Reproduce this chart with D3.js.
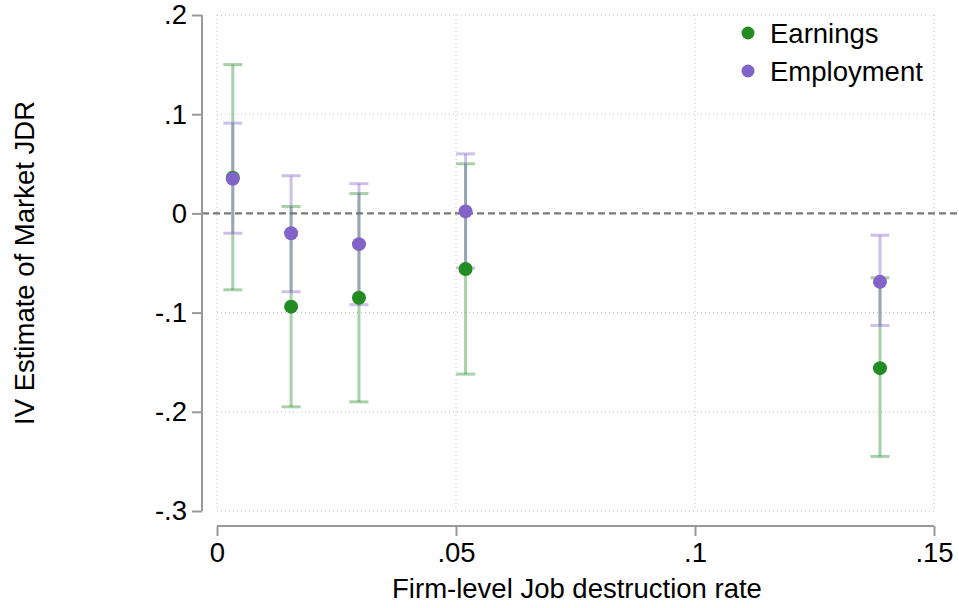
<!DOCTYPE html>
<html>
<head>
<meta charset="utf-8">
<script src="https://cdn.jsdelivr.net/npm/d3@7"></script>
<style>
  html, body { margin: 0; padding: 0; background: #fff; }
  svg text { font-family: "Liberation Sans", Arial, Helvetica, sans-serif; fill: #000; }
</style>
</head>
<body>
<svg id="chart" width="959" height="608"></svg>
<script>
// Firm-level job destruction rate bins (x positions)
const jdr = [0.0033, 0.0155, 0.0297, 0.0520, 0.1387];

// IV estimates with 95% confidence bounds
const earningsEst = [0.036, -0.094, -0.085, -0.056, -0.156];
const earningsLo  = [-0.077, -0.195, -0.190, -0.162, -0.245];
const earningsHi  = [0.150, 0.007, 0.020, 0.050, -0.065];

const employmentEst = [0.035, -0.020, -0.031, 0.002, -0.069];
const employmentLo  = [-0.020, -0.079, -0.092, -0.055, -0.113];
const employmentHi  = [0.091, 0.038, 0.030, 0.060, -0.022];

const xTicks = [0, 0.05, 0.10, 0.15];
const yTicks = [0.2, 0.1, 0, -0.1, -0.2, -0.3];
const xTickLabels = ["0", ".05", ".1", ".15"];
const yTickLabels = [".2", ".1", "0", "-.1", "-.2", "-.3"];

const seriesNames = ["Earnings", "Employment"];
const colors = { Earnings: "#228b22", Employment: "#8264c8" };

const fontSize = 27.5;
const svg = d3.select("#chart");

const x = d3.scaleLinear().domain([0, 0.15]).range([217, 934]);
const y = d3.scaleLinear().domain([-0.3, 0.2]).range([511, 15]);

// Gridlines
const grid = svg.append("g");
grid.selectAll("line.vg").data(xTicks).join("line")
  .attr("x1", d => x(d)).attr("x2", d => x(d))
  .attr("y1", y(0.2)).attr("y2", y(-0.3))
  .attr("stroke", "#c0c0c0").attr("stroke-width", 1)
  .attr("stroke-dasharray", "1,3");
grid.selectAll("line.hg").data(yTicks.filter(d => d !== 0)).join("line")
  .attr("x1", x(0)).attr("x2", x(0.15))
  .attr("y1", d => y(d)).attr("y2", d => y(d))
  .attr("stroke", "#c0c0c0").attr("stroke-width", 1)
  .attr("stroke-dasharray", "1,3");

// Reference line at zero
svg.append("line")
  .attr("x1", 202).attr("x2", 959)
  .attr("y1", y(0)).attr("y2", y(0))
  .attr("stroke", "#7a7a7a").attr("stroke-width", 2.2)
  .attr("stroke-dasharray", "7,4");

// Y axis
const yAxis = d3.axisLeft(y).tickValues(yTicks)
  .tickFormat((d, i) => yTickLabels[i]).tickSize(10).tickPadding(5);
const gy = svg.append("g").attr("transform", "translate(202,0)").call(yAxis);
gy.select(".domain").attr("stroke", "#999").attr("stroke-width", 2).attr("d", `M0,${y(0.2)}V${y(-0.3)}`);
gy.selectAll(".tick line").attr("stroke", "#999").attr("stroke-width", 2);
gy.selectAll(".tick text").attr("font-size", fontSize).attr("fill", "#000")
  .style("font-family", "'Liberation Sans', Arial, sans-serif");

// X axis
const xAxis = d3.axisBottom(x).tickValues(xTicks)
  .tickFormat((d, i) => xTickLabels[i]).tickSize(10).tickPadding(6);
const gx = svg.append("g").attr("transform", "translate(0,526)").call(xAxis);
gx.select(".domain").attr("stroke", "#999").attr("stroke-width", 2).attr("d", `M${x(0)},0H${x(0.15)}`);
gx.selectAll(".tick line").attr("stroke", "#999").attr("stroke-width", 2);
gx.selectAll(".tick text").attr("font-size", fontSize).attr("fill", "#000")
  .style("font-family", "'Liberation Sans', Arial, sans-serif");

// Axis titles
svg.append("text")
  .attr("x", 577).attr("y", 598)
  .attr("text-anchor", "middle").attr("font-size", fontSize)
  .text("Firm-level Job destruction rate");
svg.append("text")
  .attr("transform", "translate(34,263) rotate(-90)")
  .attr("text-anchor", "middle").attr("font-size", fontSize)
  .text("IV Estimate of Market JDR");

// Build series rows
const series = [
  { name: "Earnings", est: earningsEst, lo: earningsLo, hi: earningsHi },
  { name: "Employment", est: employmentEst, lo: employmentLo, hi: employmentHi }
].map(s => ({
  name: s.name,
  rows: jdr.map((xv, i) => ({ x: xv, est: s.est[i], lo: s.lo[i], hi: s.hi[i] }))
}));

const capHalf = 9.5;

// Confidence intervals
series.forEach(s => {
  const g = svg.append("g")
    .attr("stroke", colors[s.name]).attr("stroke-opacity", 0.4)
    .attr("stroke-width", 3).attr("fill", "none");
  g.selectAll("line.stem").data(s.rows).join("line")
    .attr("x1", d => x(d.x)).attr("x2", d => x(d.x))
    .attr("y1", d => y(d.hi)).attr("y2", d => y(d.lo));
  g.selectAll("line.top").data(s.rows).join("line")
    .attr("x1", d => x(d.x) - capHalf).attr("x2", d => x(d.x) + capHalf)
    .attr("y1", d => y(d.hi)).attr("y2", d => y(d.hi));
  g.selectAll("line.bot").data(s.rows).join("line")
    .attr("x1", d => x(d.x) - capHalf).attr("x2", d => x(d.x) + capHalf)
    .attr("y1", d => y(d.lo)).attr("y2", d => y(d.lo));
});

// Point estimates
series.forEach(s => {
  svg.append("g").selectAll("circle").data(s.rows).join("circle")
    .attr("cx", d => x(d.x)).attr("cy", d => y(d.est))
    .attr("r", 7).attr("fill", colors[s.name]);
});

// Legend
const legend = svg.append("g");
seriesNames.forEach((name, i) => {
  const yy = 33 + i * 38;
  legend.append("circle").attr("cx", 748).attr("cy", yy).attr("r", 6.5).attr("fill", colors[name]);
  legend.append("text").attr("x", 770).attr("y", yy + 10).attr("font-size", fontSize).text(name);
});
</script>
</body>
</html>
